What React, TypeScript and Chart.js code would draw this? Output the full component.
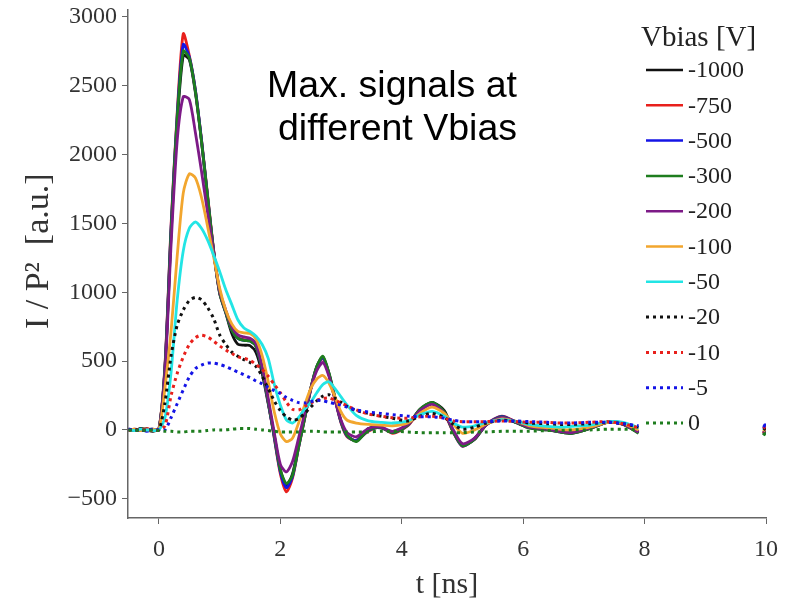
import React, { useEffect, useRef } from "react";
import { Chart, registerables } from "chart.js";

Chart.register(...registerables);

// Sampling times in ns (a gap at 8 ns separates the last two samples)
const TIME_NS = [
  -0.5, -0.4, -0.3, -0.2, -0.1, 0,
  0.1, 0.2, 0.3, 0.4, 0.5, 0.6, 0.7, 0.8, 0.9, 1,
  1.1, 1.2, 1.3, 1.4, 1.5, 1.6, 1.7, 1.8, 1.9, 2,
  2.1, 2.2, 2.3, 2.4, 2.5, 2.6, 2.7, 2.8, 2.9, 3,
  3.1, 3.25, 3.45, 3.65, 3.85, 4.1, 4.3, 4.5, 4.7, 4.85,
  5, 5.2, 5.4, 5.65, 5.9, 6.1, 6.4, 6.6, 6.8, 7.1, 7.4, 7.65, 7.9,
  8, 9.96, 10,
];

// I / P^2 signals [a.u.] for each bias voltage
const V_M1000 = [
  5, -5, 10, 0, -10, 10,
  450, 1420, 2220, 2720, 2690, 2450, 2100, 1690, 1300, 990,
  850, 700, 622, 615, 612, 560, 410, 190, -40, -290,
  -405, -320, -110, 90, 300, 460, 530, 410, 230, 60,
  -40, -80, 10, 15, -15, 40, 150, 200, 140, -10,
  -110, -70, 40, 95, 50, 15, 0, -15, -25, 10, 55, 40, -20,
  null, -30, 20,
];
const V_M750 = [
  0, 5, -5, 10, -5, 5,
  480, 1490, 2300, 2877, 2720, 2470, 2110, 1710, 1310, 1000,
  860, 730, 670, 655, 650, 610, 440, 200, -60, -320,
  -450, -350, -130, 80, 290, 450, 520, 400, 220, 50,
  -50, -75, -10, 20, -25, 30, 140, 190, 120, -20,
  -120, -60, 45, 100, 55, 20, 5, -10, -20, 15, 60, 45, -15,
  null, -25, 25,
];
const V_M500 = [
  -5, 0, 5, -10, 5, 0,
  465, 1470, 2280, 2800, 2710, 2470, 2110, 1700, 1300, 1000,
  855, 725, 665, 650, 645, 605, 435, 200, -55, -305,
  -420, -340, -125, 85, 295, 455, 525, 405, 225, 55,
  -45, -78, -5, 20, -20, 35, 145, 195, 125, -15,
  -118, -62, 42, 98, 52, 18, 2, -12, -22, 12, 58, 42, -18,
  null, 10, 45,
];
const V_M300 = [
  0, -5, 5, 5, -5, 5,
  455, 1450, 2260, 2752, 2700, 2460, 2100, 1700, 1300, 995,
  855, 725, 665, 650, 645, 605, 440, 205, -45, -290,
  -390, -330, -125, 85, 300, 460, 535, 415, 235, 60,
  -40, -85, 0, 20, -20, 35, 150, 200, 130, -15,
  -115, -65, 40, 95, 50, 15, 0, -15, -25, 10, 55, 40, -25,
  null, -40, -10,
];
const V_M200 = [
  5, 0, -5, 5, 0, 5,
  420, 1350, 2100, 2420, 2400, 2160, 1880, 1580, 1290, 1010,
  870, 750, 690, 675, 665, 625, 460, 230, -20, -250,
  -305, -230, -60, 120, 300, 430, 490, 390, 220, 70,
  -20, -50, 10, 20, -10, 40, 140, 185, 120, 0,
  -100, -60, 40, 90, 55, 20, 5, -10, -20, 15, 55, 40, -15,
  null, -20, 15,
];
const V_M100 = [
  0, 5, -5, 0, 5, 0,
  310, 720, 1260, 1720, 1860, 1830, 1690, 1480, 1260, 1030,
  870, 770, 715, 705, 700, 660, 540, 350, 130, -30,
  -85, -60, 50, 180, 300, 370, 395, 340, 240, 130,
  70, 50, 40, 35, 30, 50, 120, 165, 120, 40,
  -25, 0, 45, 80, 60, 30, 15, 5, 0, 20, 55, 45, 0,
  null, -10, 20,
];
const V_M50 = [
  0, -5, 5, 0, -5, 0,
  90, 420, 940, 1300, 1465, 1510, 1465, 1380, 1270, 1150,
  1020, 910, 800, 740, 715, 680, 620, 520, 330, 180,
  72, 50, 90, 150, 200, 270, 330, 350, 300, 240,
  180, 105, 65, 55, 50, 65, 110, 135, 100, 50,
  20, 30, 55, 75, 60, 40, 25, 20, 25, 35, 60, 55, 15,
  null, 0, 30,
];
const V_M20 = [
  0, 5, -5, 0, 5, 0,
  200, 540, 760, 870, 940, 962, 945, 890, 810, 690,
  620, 565, 535, 510, 490, 460, 390, 300, 210, 140,
  95, 72, 80, 120, 165, 210, 245, 255, 230, 200,
  170, 140, 120, 100, 85, 65, 100, 120, 90, 40,
  5, 20, 50, 70, 60, 50, 45, 40, 40, 45, 55, 45, 20,
  null, 0, 20,
];
const V_M10 = [
  0, -5, 5, 0, -5, 0,
  30, 250, 410, 530, 620, 670, 688, 675, 645, 610,
  580, 555, 530, 520, 505, 475, 440, 390, 330, 270,
  200, 150, 145, 170, 195, 215, 228, 232, 215, 195,
  175, 145, 115, 100, 88, 85, 95, 100, 85, 65,
  60, 60, 60, 65, 60, 55, 55, 50, 50, 55, 60, 45, 15,
  null, 10, 35,
];
const V_M5 = [
  5, 0, -5, 0, 5, 0,
  0, 90, 190, 290, 385, 445, 470, 485, 485, 475,
  460, 440, 420, 400, 380, 355, 335, 310, 285, 265,
  235, 215, 198, 195, 205, 215, 212, 200, 190, 180,
  165, 145, 130, 120, 110, 100, 95, 95, 85, 70,
  60, 60, 60, 65, 65, 60, 55, 50, 50, 55, 55, 45, 30,
  null, 20, 50,
];
const V_0 = [
  0, -5, 0, -5, 0, -5,
  -10, -10, -15, -15, -10, -10, -10, -5, 0, 0,
  0, 5, 10, 10, 10, 5, 0, -5, -10, -15,
  -15, -15, -15, -10, -10, -10, -15, -15, -15, -15,
  -15, -15, -15, -10, -10, -15, -20, -20, -20, -20,
  -20, -15, -15, -10, -10, -10, -5, -5, 0, 0, 5, 5, 0,
  null, -40, -15,
];

const BIAS_LABELS = ["-1000", "-750", "-500", "-300", "-200", "-100", "-50", "-20", "-10", "-5", "0"];
const SERIES = [V_M1000, V_M750, V_M500, V_M300, V_M200, V_M100, V_M50, V_M20, V_M10, V_M5, V_0];

const X_TICKS = [0, 2, 4, 6, 8, 10];
const Y_TICKS = [-500, 0, 500, 1000, 1500, 2000, 2500, 3000];

const LEGEND_TITLE = "Vbias [V]";
const NOTE_LINES = ["Max. signals at", "different Vbias"];
const X_TITLE = "t [ns]";
const Y_TITLE = "   I / P\u00B2  [a.u.]";

const COLORS = ["#111111", "#e8201c", "#1414e6", "#1e7d1e", "#7d1a87", "#f2a62e", "#22e5e5", "#111111", "#e8201c", "#1414e6", "#1e7d1e"];
const DOTTED = [false, false, false, false, false, false, false, true, true, true, true];
const DOT_DASH = [3, 4];

const SERIF = '"Liberation Serif", "Times New Roman", serif';
const SANS = '"Liberation Sans", Arial, sans-serif';

const legendPlugin = {
  id: "biasLegend",
  afterDraw(chart: any) {
    const ctx = chart.ctx as CanvasRenderingContext2D;
    ctx.save();
    // annotation text
    ctx.fillStyle = "#000";
    ctx.font = `37.5px ${SANS}`;
    ctx.textAlign = "right";
    ctx.textBaseline = "alphabetic";
    ctx.fillText(NOTE_LINES[0], 517, 97);
    ctx.fillText(NOTE_LINES[1], 517, 140);

    // legend
    ctx.fillStyle = "#222";
    ctx.textAlign = "left";
    ctx.textBaseline = "middle";
    ctx.font = `29px ${SERIF}`;
    ctx.fillText(LEGEND_TITLE, 641, 38);
    ctx.font = `24px ${SERIF}`;
    BIAS_LABELS.forEach((label, i) => {
      const y = 70 + i * 35.3;
      ctx.strokeStyle = COLORS[i];
      ctx.lineWidth = DOTTED[i] ? 3 : 2.5;
      ctx.setLineDash(DOTTED[i] ? DOT_DASH : []);
      ctx.beginPath();
      ctx.moveTo(646, y);
      ctx.lineTo(683, y);
      ctx.stroke();
      ctx.fillText(label, 688, y + 1);
    });
    ctx.restore();
  },
};

function formatTick(v: number) {
  return v < 0 ? "\u2212" + Math.abs(v) : String(v);
}

export default function App() {
  const canvasRef = useRef<HTMLCanvasElement | null>(null);

  useEffect(() => {
    if (!canvasRef.current) return;
    const datasets = SERIES.map((values, i) => ({
      label: BIAS_LABELS[i],
      data: TIME_NS.map((t, k) => ({ x: t, y: values[k] })),
      borderColor: COLORS[i],
      backgroundColor: COLORS[i],
      borderWidth: DOTTED[i] ? 3 : 2.8,
      borderDash: DOTTED[i] ? DOT_DASH : [],
      borderCapStyle: "butt" as const,
      pointRadius: 0,
      tension: 0.25,
      spanGaps: false,
      fill: false,
      order: SERIES.length - i,
    }));

    const chart = new Chart(canvasRef.current, {
      type: "line",
      data: { datasets },
      options: {
        animation: false,
        responsive: false,
        maintainAspectRatio: false,
        layout: { padding: { top: 10, right: 21, left: 0, bottom: 0 } },
        plugins: {
          legend: { display: false },
          tooltip: { enabled: false },
        },
        scales: {
          x: {
            type: "linear",
            min: -0.51,
            max: 10,
            afterBuildTicks: (scale: any) => {
              scale.ticks = X_TICKS.map((v) => ({ value: v }));
            },
            afterFit: (scale: any) => {
              scale.height = 86;
              scale.paddingLeft = 0;
              scale.paddingRight = 0;
            },
            grid: { display: true, drawOnChartArea: false, drawTicks: true, tickLength: 6, color: "#666" },
            border: { display: true, color: "#666", width: 1.5 },
            ticks: {
              font: { family: SERIF, size: 24 },
              color: "#333",
              padding: 11,
              maxRotation: 0,
              callback: (v: any) => formatTick(Number(v)),
            },
            title: {
              display: true,
              text: X_TITLE,
              font: { family: SERIF, size: 30 },
              color: "#333",
              padding: { top: 0, bottom: 1 },
            },
          },
          y: {
            type: "linear",
            min: -640,
            max: 3050,
            afterBuildTicks: (scale: any) => {
              scale.ticks = Y_TICKS.map((v) => ({ value: v }));
            },
            afterFit: (scale: any) => {
              scale.width = 128;
              scale.paddingTop = 0;
              scale.paddingBottom = 0;
            },
            grid: { display: true, drawOnChartArea: false, drawTicks: true, tickLength: 6, color: "#666" },
            border: { display: true, color: "#666", width: 1.5 },
            ticks: {
              font: { family: SERIF, size: 24 },
              color: "#333",
              padding: 5,
              callback: (v: any) => formatTick(Number(v)),
            },
            title: {
              display: true,
              text: Y_TITLE,
              font: { family: SERIF, size: 34 },
              color: "#333",
              padding: { top: 19, bottom: 0 },
            },
          },
        },
      },
      plugins: [legendPlugin],
    });

    return () => chart.destroy();
  }, []);

  return (
    <div style={{ position: "fixed", left: 0, top: 0, width: 787, height: 604, background: "#fff" }}>
      <canvas ref={canvasRef} width={787} height={604} style={{ display: "block" }} />
    </div>
  );
}
